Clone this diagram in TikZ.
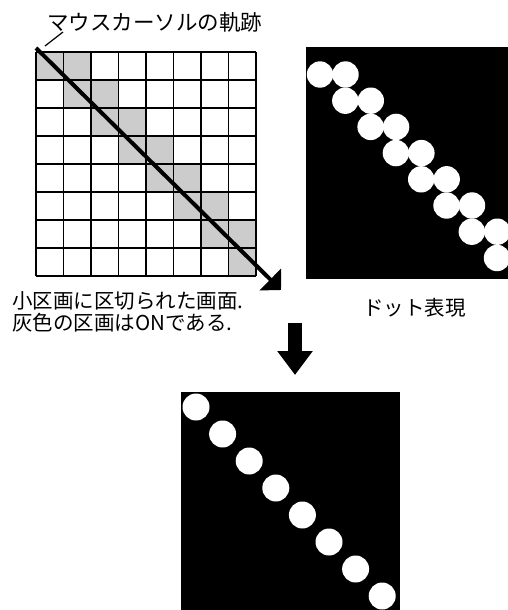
\documentclass[tikz,border=0pt]{standalone}
\usepackage{fontspec}
\setmainfont{Noto Sans CJK JP}
\usetikzlibrary{arrows.meta}
\definecolor{cellgray}{rgb}{0.80,0.80,0.80}
\tikzset{
  lbl/.style={inner sep=0pt, anchor=west, font=\fontsize{20.5pt}{22pt}\selectfont},
  gridline/.style={line width=1.4pt, black},
  panel/.style={fill=black, draw=none},
  dot/.style={fill=white, draw=none},
  trail/.style={line width=4pt, -{Triangle[length=15pt,width=30pt]}},
  blockarrow/.style={line width=14pt, -{Triangle[length=24pt,width=34pt]}}
}
\begin{document}
\begin{tikzpicture}[x=1pt,y=-1pt]
\useasboundingbox (0,0) rectangle (508,610);
% gray cells
\foreach \r in {0,...,7}{
  \fill[cellgray] ({36+\r*27.5},{52+\r*28}) rectangle ++(27.5,28);
  \ifnum\r<7
    \fill[cellgray] ({36+(\r+1)*27.5},{52+\r*28}) rectangle ++(27.5,28);
  \fi
}
% grid
\foreach \i in {0,...,8}{
  \draw[gridline] ({36+\i*27.5},52) -- ({36+\i*27.5},276);
  \draw[gridline] (36,{52+\i*28}) -- (256,{52+\i*28});
}
% cursor trail
\coordinate (tstart) at (36,48);
\coordinate (ttip) at (281,290);
\draw[trail] (tstart) -- (ttip);
% title label and leader
\node[lbl, font=\fontsize{21.5pt}{23pt}\selectfont] (title) at (47,22) {マウスカーソルの軌跡};
\coordinate (lead1) at (63,32);
\coordinate (lead2) at (45,46);
\draw[line width=1.2pt] (lead1) -- (lead2);
% right panel: dot representation
\fill[panel] (306,47) rectangle (508,279);
\foreach \k in {0,...,6}{
  \fill[dot] ({320+\k*25.3},{74.5+\k*26.2}) circle (13.2);
  \fill[dot] ({345.5+\k*25.3},{74.5+\k*26.2}) circle (13.2);
}
\fill[dot] (497,258) circle (13.2);
% captions
\node[lbl] (cap1) at (12,301) {小区画に区切られた画面.};
\node[lbl] (cap2) at (12,323) {灰色の区画はONである.};
\node[lbl, font=\fontsize{20.5pt}{22pt}\selectfont] (cap3) at (363,308) {ドット表現};
% down arrow
\coordinate (dtop) at (295,323);
\coordinate (dtip) at (295,375);
\draw[blockarrow] (dtop) -- (dtip);
% bottom panel
\fill[panel] (181,392) rectangle (400,610);
\foreach \k in {0,...,7}{
  \fill[dot] ({196+\k*26.6},{407+\k*27}) circle (13.5);
}
\end{tikzpicture}
\end{document}
